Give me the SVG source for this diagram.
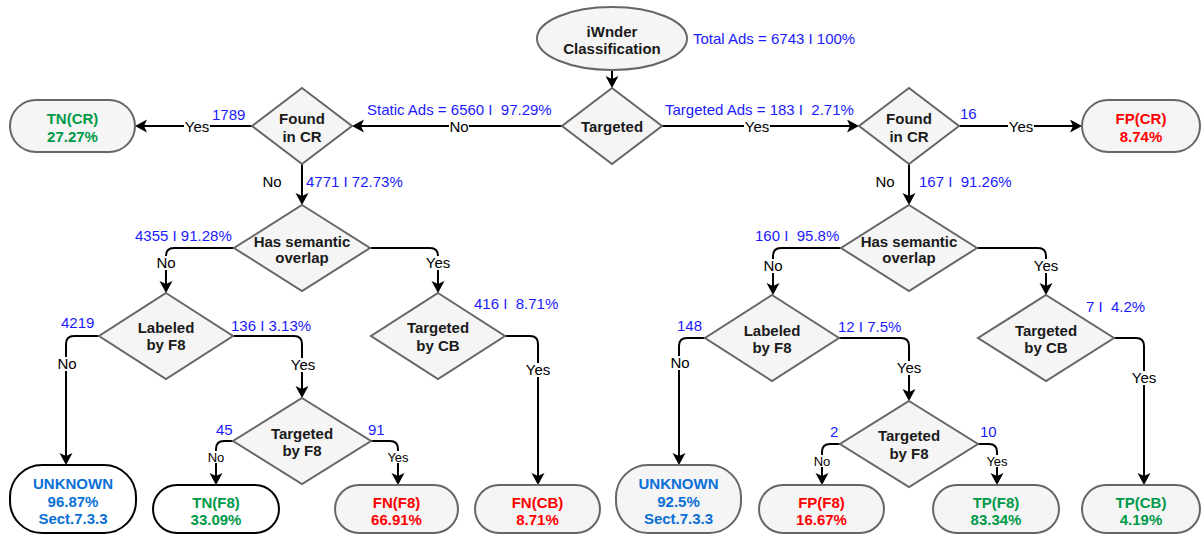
<svg xmlns="http://www.w3.org/2000/svg" width="1202" height="535" viewBox="0 0 1202 535">
<style>
text{font-family:"Liberation Sans",Arial,Helvetica,sans-serif}
.dia{fill:#f5f5f5;stroke:#666;stroke-width:2}
.tg{fill:#f5f5f5;stroke:#666;stroke-width:2}
.tw{fill:#fff;stroke:#000;stroke-width:2}
.nt{font-size:15px;font-weight:bold;text-anchor:middle;fill:#1a1a1a}
.e{fill:none;stroke:#000;stroke-width:2;marker-end:url(#arr)}
.lb{font-size:15px;text-anchor:middle;fill:#000}
.ls{font-size:13px;text-anchor:middle;fill:#000}
.bg{fill:#fff}
.bl{font-size:15px;fill:#1a1aff}
.g{fill:#009948}
.r{fill:#ff0000}
.u{fill:#0a6fd6}
</style>
<defs>
<marker id="arr" markerUnits="userSpaceOnUse" markerWidth="16" markerHeight="16" refX="9" refY="6.5" orient="auto"><path d="M0,0 L12,6.5 L0,13 L3,6.5 Z" fill="#000"/></marker>
</defs>
<g id="connectors">
<path class="e" d="M612,70 V85"/>
<path class="e" d="M562,126 H355"/>
<path class="e" d="M252,126 H138"/>
<path class="e" d="M662,126 H856"/>
<path class="e" d="M959,126 H1079"/>
<path class="e" d="M302,164 V202"/>
<path class="e" d="M909,164 V202"/>
<path class="e" d="M234,248 H174 Q166,248 166,256 V290"/>
<path class="e" d="M370,248 H430 Q438,248 438,256 V290"/>
<path class="e" d="M99,336 H74 Q66,336 66,344 V462"/>
<path class="e" d="M233,336 H294 Q302,336 302,344 V395"/>
<path class="e" d="M505,336 H530 Q538,336 538,344 V482"/>
<path class="e" d="M233,441 H224 Q216,441 216,449 V482"/>
<path class="e" d="M371,441 H390 Q398,441 398,449 V482"/>
<path class="e" d="M841,248 H781 Q773,248 773,256 V292"/>
<path class="e" d="M977,248 H1038 Q1046,248 1046,256 V292"/>
<path class="e" d="M705,338 H687 Q679,338 679,346 V462"/>
<path class="e" d="M839,338 H901 Q909,338 909,346 V398"/>
<path class="e" d="M1114,338 H1136 Q1144,338 1144,346 V482"/>
<path class="e" d="M840,444 H830 Q822,444 822,452 V482"/>
<path class="e" d="M978,444 H989 Q997,444 997,452 V482"/>
<!-- edge labels -->
<rect class="bg" x="449" y="120" width="20" height="14"/><text class="lb" x="459" y="132.4">No</text>
<rect class="bg" x="184" y="120" width="26" height="14"/><text class="lb" x="197" y="132.4">Yes</text>
<rect class="bg" x="744" y="120" width="26" height="14"/><text class="lb" x="757" y="132.4">Yes</text>
<rect class="bg" x="1008" y="120" width="26" height="14"/><text class="lb" x="1021" y="132.4">Yes</text>
<text class="lb" x="272" y="187.4">No</text>
<text class="lb" x="885" y="187.4">No</text>
<rect class="bg" x="156" y="256" width="20" height="14"/><text class="lb" x="166" y="268.4">No</text>
<rect class="bg" x="425" y="256" width="26" height="14"/><text class="lb" x="438" y="268.4">Yes</text>
<rect class="bg" x="763" y="259" width="20" height="14"/><text class="lb" x="773" y="271.4">No</text>
<rect class="bg" x="1033" y="259" width="26" height="14"/><text class="lb" x="1046" y="271.4">Yes</text>
<rect class="bg" x="57" y="357" width="20" height="14"/><text class="lb" x="67" y="369.4">No</text>
<rect class="bg" x="290" y="358" width="26" height="14"/><text class="lb" x="303" y="370.4">Yes</text>
<rect class="bg" x="525" y="363" width="26" height="14"/><text class="lb" x="538" y="375.4">Yes</text>
<rect class="bg" x="670" y="356" width="20" height="14"/><text class="lb" x="680" y="368.4">No</text>
<rect class="bg" x="896" y="361" width="26" height="14"/><text class="lb" x="909" y="373.4">Yes</text>
<rect class="bg" x="1131" y="371" width="26" height="14"/><text class="lb" x="1144" y="383.4">Yes</text>
<rect class="bg" x="207" y="451" width="18" height="12"/><text class="ls" x="216" y="461.7">No</text>
<rect class="bg" x="387" y="451" width="22" height="12"/><text class="ls" x="398" y="461.7">Yes</text>
<rect class="bg" x="813" y="455" width="18" height="12"/><text class="ls" x="822" y="465.7">No</text>
<rect class="bg" x="986" y="455" width="22" height="12"/><text class="ls" x="997" y="465.7">Yes</text>
<!-- counts -->
<text class="bl" x="693" y="44">Total Ads = 6743 I 100%</text>
<text class="bl" x="367" y="115">Static Ads = 6560 I&#160; 97.29%</text>
<text class="bl" x="665" y="115">Targeted Ads = 183 I&#160; 2.71%</text>
<text class="bl" x="212" y="120">1789</text>
<text class="bl" x="960" y="119">16</text>
<text class="bl" x="306" y="187">4771 I 72.73%</text>
<text class="bl" x="919" y="187">167 I&#160; 91.26%</text>
<text class="bl" x="135" y="241">4355 I 91.28%</text>
<text class="bl" x="755" y="241">160 I&#160; 95.8%</text>
<text class="bl" x="61" y="328">4219</text>
<text class="bl" x="231" y="331">136 I 3.13%</text>
<text class="bl" x="677" y="331">148</text>
<text class="bl" x="838" y="332">12 I 7.5%</text>
<text class="bl" x="474" y="309">416 I&#160; 8.71%</text>
<text class="bl" x="1086" y="312">7 I&#160; 4.2%</text>
<text class="bl" x="216" y="435">45</text>
<text class="bl" x="368" y="435">91</text>
<text class="bl" x="830" y="437">2</text>
<text class="bl" x="980" y="437">10</text>
</g>
<g id="start"><ellipse class="tg" cx="612" cy="38.5" rx="75" ry="31.5"/><text class="nt" x="612" y="37">iWnder</text><text class="nt" x="612" y="54">Classification</text></g>
<g id="targeted"><polygon class="dia" points="612,88 662,126 612,164 562,126"/><text class="nt" x="612" y="132">Targeted</text></g>
<g id="foundCR_static"><polygon class="dia" points="302,88 352,126 302,164 252,126"/><text class="nt" x="302" y="124">Found</text><text class="nt" x="302" y="142">in CR</text></g>
<g id="foundCR_targeted"><polygon class="dia" points="909,88 959,126 909,164 859,126"/><text class="nt" x="909" y="124">Found</text><text class="nt" x="909" y="142">in CR</text></g>
<g id="tn_cr"><rect class="tg" x="10" y="100" width="125" height="52" rx="26"/><text class="nt g" x="72.5" y="124">TN(CR)</text><text class="nt g" x="72.5" y="142">27.27%</text></g>
<g id="fp_cr"><rect class="tg" x="1082" y="100" width="118" height="52" rx="26"/><text class="nt r" x="1141" y="124">FP(CR)</text><text class="nt r" x="1141" y="142">8.74%</text></g>
<g id="semantic_static"><polygon class="dia" points="302,205 370,248 302,291 234,248"/><text class="nt" x="302" y="247">Has semantic</text><text class="nt" x="302" y="263">overlap</text></g>
<g id="semantic_targeted"><polygon class="dia" points="909,205 977,248 909,291 841,248"/><text class="nt" x="909" y="247">Has semantic</text><text class="nt" x="909" y="263">overlap</text></g>
<g id="labeled_static"><polygon class="dia" points="166,293 233,336 166,379 99,336"/><text class="nt" x="166" y="333">Labeled</text><text class="nt" x="166" y="350">by F8</text></g>
<g id="cb_static"><polygon class="dia" points="438,293 505,336 438,379 371,336"/><text class="nt" x="438" y="333">Targeted</text><text class="nt" x="438" y="351">by CB</text></g>
<g id="labeled_targeted"><polygon class="dia" points="772,295 839,338 772,381 705,338"/><text class="nt" x="772" y="336">Labeled</text><text class="nt" x="772" y="353">by F8</text></g>
<g id="cb_targeted"><polygon class="dia" points="1046,295 1114,338 1046,381 978,338"/><text class="nt" x="1046" y="336">Targeted</text><text class="nt" x="1046" y="353">by CB</text></g>
<g id="f8_static"><polygon class="dia" points="302,398 371,441 302,484 233,441"/><text class="nt" x="302" y="439">Targeted</text><text class="nt" x="302" y="456">by F8</text></g>
<g id="f8_targeted"><polygon class="dia" points="909,401 978,444 909,487 840,444"/><text class="nt" x="909" y="441">Targeted</text><text class="nt" x="909" y="459">by F8</text></g>
<g id="unknown_static"><rect class="tw" x="10" y="465" width="126" height="68" rx="32"/><text class="nt u" x="73" y="489">UNKNOWN</text><text class="nt u" x="73" y="507">96.87%</text><text class="nt u" x="73" y="524">Sect.7.3.3</text></g>
<g id="tn_f8"><rect class="tw" x="153" y="485" width="126" height="48" rx="24"/><text class="nt g" x="216" y="508">TN(F8)</text><text class="nt g" x="216" y="525">33.09%</text></g>
<g id="fn_f8"><rect class="tg" x="335" y="485" width="123" height="48" rx="24"/><text class="nt r" x="396.5" y="508">FN(F8)</text><text class="nt r" x="396.5" y="525">66.91%</text></g>
<g id="fn_cb"><rect class="tg" x="475" y="485" width="125" height="48" rx="24"/><text class="nt r" x="537.5" y="508">FN(CB)</text><text class="nt r" x="537.5" y="525">8.71%</text></g>
<g id="unknown_targeted"><rect class="tg" x="616" y="465" width="125" height="68" rx="32"/><text class="nt u" x="678.5" y="489">UNKNOWN</text><text class="nt u" x="678.5" y="507">92.5%</text><text class="nt u" x="678.5" y="524">Sect.7.3.3</text></g>
<g id="fp_f8"><rect class="tg" x="759" y="485" width="125" height="48" rx="24"/><text class="nt r" x="821.5" y="508">FP(F8)</text><text class="nt r" x="821.5" y="525">16.67%</text></g>
<g id="tp_f8"><rect class="tg" x="933" y="485" width="126" height="48" rx="24"/><text class="nt g" x="996" y="508">TP(F8)</text><text class="nt g" x="996" y="525">83.34%</text></g>
<g id="tp_cb"><rect class="tg" x="1082" y="485" width="118" height="48" rx="24"/><text class="nt g" x="1141" y="508">TP(CB)</text><text class="nt g" x="1141" y="525">4.19%</text></g>
</svg>
